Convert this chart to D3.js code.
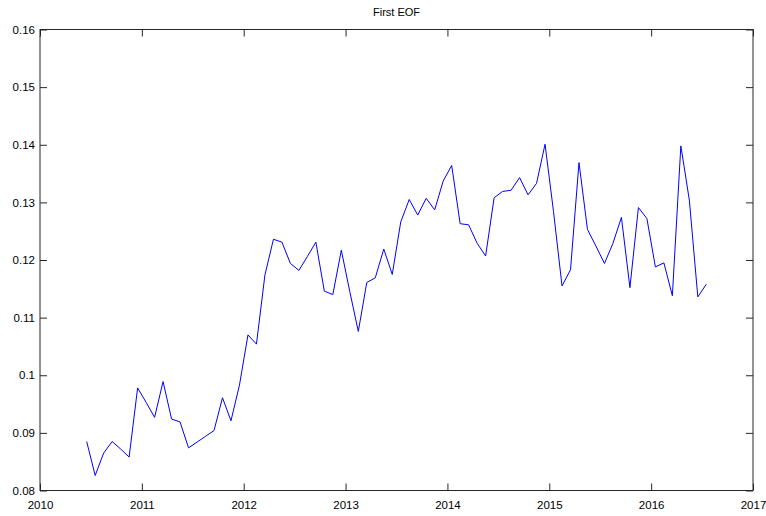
<!DOCTYPE html>
<html>
<head>
<meta charset="utf-8">
<script src="https://cdn.jsdelivr.net/npm/d3@7"></script>
<style>
  html, body { margin: 0; padding: 0; background: #fff; }
  svg { display: block; }
  text { font-family: "Liberation Sans", Arial, Helvetica, sans-serif; fill: #000; }
</style>
</head>
<body>
<script>
// Monthly series, June 2010 through July 2016
const startYear = 2010;
const startMonth = 6;
const eofValues = [
  0.0885, 0.0826, 0.0865, 0.0885, 0.0872, 0.0858, 0.0978, 0.0953, 0.0927, 0.0989,
  0.0924, 0.0919, 0.0874, 0.0884, 0.0894, 0.0904, 0.0961, 0.0921, 0.0983, 0.1070,
  0.1054, 0.1174, 0.1236, 0.1231, 0.1194, 0.1182, 0.1206, 0.1231, 0.1146, 0.1140,
  0.1217, 0.1145, 0.1076, 0.1161, 0.1169, 0.1219, 0.1175, 0.1266, 0.1305, 0.1278,
  0.1307, 0.1287, 0.1337, 0.1364, 0.1263, 0.1261, 0.1229, 0.1207, 0.1308, 0.1319,
  0.1321, 0.1343, 0.1313, 0.1333, 0.1401, 0.1284, 0.1155, 0.1183, 0.1369, 0.1253,
  0.1224, 0.1194, 0.1229, 0.1274, 0.1152, 0.1291, 0.1272, 0.1188, 0.1195, 0.1138,
  0.1398, 0.1304, 0.1136, 0.1158
];
const xTicks = [2010, 2011, 2012, 2013, 2014, 2015, 2016, 2017];
const yTicks = [0.08, 0.09, 0.1, 0.11, 0.12, 0.13, 0.14, 0.15, 0.16];
const yTickLabels = ["0.08", "0.09", "0.1", "0.11", "0.12", "0.13", "0.14", "0.15", "0.16"];
const titleText = "First EOF";

const W = 766, H = 516;
const plotLeft = 40, plotRight = 753, plotTop = 29.5, plotBottom = 490.5;
const tickLen = 7;

// month centres as decimal years
const points = eofValues.map((v, i) => ({
  t: startYear + (startMonth - 1 + i + 0.5) / 12,
  v
}));

const svg = d3.select("body").append("svg")
  .attr("width", W).attr("height", H);

const x = d3.scaleLinear().domain([2010, 2017]).range([plotLeft, plotRight]);
const y = d3.scaleLinear().domain([0.08, 0.16]).range([plotBottom, plotTop]);

const fontSize = "11.5px";

// bottom axis (ticks point into the plot)
const gx = svg.append("g").attr("transform", `translate(0,${plotBottom})`)
  .call(d3.axisBottom(x).tickValues(xTicks).tickFormat(d3.format("d"))
    .tickSizeInner(-tickLen).tickSizeOuter(0).tickPadding(10));
// top axis ticks
const gxt = svg.append("g").attr("transform", `translate(0,${plotTop})`)
  .call(d3.axisTop(x).tickValues(xTicks).tickFormat("")
    .tickSizeInner(-tickLen).tickSizeOuter(0));
// left axis
const gy = svg.append("g").attr("transform", `translate(${plotLeft},0)`)
  .call(d3.axisLeft(y).tickValues(yTicks).tickFormat((d, i) => yTickLabels[i])
    .tickSizeInner(-tickLen).tickSizeOuter(0).tickPadding(5));
// right axis ticks
const gyr = svg.append("g").attr("transform", `translate(${plotRight},0)`)
  .call(d3.axisRight(y).tickValues(yTicks).tickFormat("")
    .tickSizeInner(-tickLen).tickSizeOuter(0));

[gx, gxt, gy, gyr].forEach(g => {
  g.select(".domain").remove();
  g.selectAll(".tick line").attr("stroke", "#262626").attr("stroke-width", 1);
  g.selectAll(".tick text").attr("font-size", fontSize).attr("fill", "#000")
    .style("font-family", '"Liberation Sans", Arial, sans-serif');
});

// plot box
svg.append("rect")
  .attr("x", plotLeft).attr("y", plotTop)
  .attr("width", plotRight - plotLeft).attr("height", plotBottom - plotTop)
  .attr("fill", "none").attr("stroke", "#262626").attr("stroke-width", 1);

// the series line
svg.append("path")
  .datum(points)
  .attr("fill", "none")
  .attr("stroke", "#0000ff")
  .attr("stroke-width", 1)
  .attr("d", d3.line().x(d => x(d.t)).y(d => y(d.v)));

// title
svg.append("text")
  .attr("x", (plotLeft + plotRight) / 2).attr("y", 16)
  .attr("text-anchor", "middle")
  .attr("font-size", "11px")
  .text(titleText);
</script>
</body>
</html>
